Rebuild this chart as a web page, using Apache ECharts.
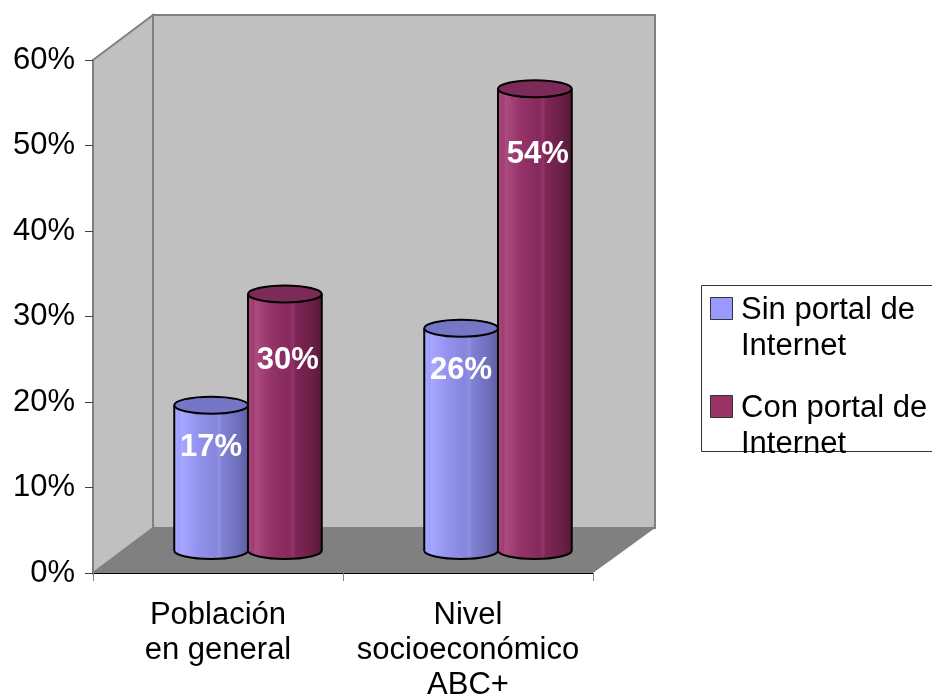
<!DOCTYPE html>
<html>
<head>
<meta charset="utf-8">
<script src="https://cdn.jsdelivr.net/npm/echarts@6/dist/echarts.min.js"></script>
<style>
  html, body { margin: 0; padding: 0; background: #ffffff; }
  #chart { width: 932px; height: 696px; }
</style>
</head>
<body>
<div id="chart"></div>
<script>
// Categories and values (shares as fractions)
const categories = ['Población\nen general', 'Nivel\nsocioeconómico\nABC+'];
const seriesNames = ['Sin portal de\nInternet', 'Con portal de\nInternet'];
const sinPortal = [0.17, 0.26];
const conPortal = [0.30, 0.54];

const FONT = '"Liberation Sans", Arial, sans-serif';
// Depth of the 3D box (back plane offset)
const DX = 60, DY = -45;

const palettes = [
  {
    base: '#9999FF',
    top: '#7676C6',
    body: [
      [0, '#A6A6FF'], [0.08, '#9E9EFF'], [0.1, '#A8A8FF'], [0.3, '#9494F0'],
      [0.55, '#8686DC'], [0.62, '#9090E4'], [0.64, '#8282D6'], [0.85, '#7070BE'], [1, '#5E5EA4']
    ]
  },
  {
    base: '#993366',
    top: '#7C2A57',
    body: [
      [0, '#A9467C'], [0.08, '#A03C72'], [0.1, '#AC4C80'], [0.3, '#96346A'],
      [0.55, '#86295C'], [0.62, '#92346A'], [0.64, '#802656'], [0.85, '#6C2048'], [1, '#561A38']
    ]
  }
];

function gradient(stops) {
  return {
    type: 'linear', x: 0, y: 0, x2: 1, y2: 0,
    colorStops: stops.map(s => ({ offset: s[0], color: s[1] }))
  };
}

// Back wall, left wall and floor of the 3D plot box
function renderBox(params, api) {
  const cs = params.coordSys;
  const x = cs.x, y = cs.y, w = cs.width, h = cs.height;
  return {
    type: 'group',
    children: [
      {
        type: 'rect',
        shape: { x: x + DX, y: y + DY, width: w + 2, height: h },
        style: { fill: '#C0C0C0', stroke: '#808080', lineWidth: 2 }
      },
      {
        type: 'polygon',
        shape: { points: [[x, y], [x + DX, y + DY], [x + DX, y + h + DY], [x, y + h]] },
        style: { fill: '#C0C0C0', stroke: '#808080', lineWidth: 2 }
      },
      {
        type: 'polygon',
        shape: { points: [[x, y + h], [x + w, y + h], [x + w + DX + 2, y + h + DY], [x + DX, y + h + DY]] },
        style: { fill: '#808080' }
      }
    ]
  };
}

// Cylinder for one data point; seriesIdx picks the side of the category slot
function makeCylinder(seriesIdx) {
  const pal = palettes[seriesIdx];
  const labelDx = seriesIdx === 0 ? 0 : 3;
  const labelDy = seriesIdx === 0 ? 42 : 66;
  return function (params, api) {
    const cat = api.value(0);
    const val = api.value(1);
    const base = api.coord([cat, 0]);
    const top = api.coord([cat, val]);
    const band = api.size([1, 0])[0];
    const w = band * 0.295;
    const rx = w / 2, ry = 8.5;
    const cx = base[0] + (seriesIdx === 0 ? -w / 2 : w / 2) + DX / 2;
    const yb = base[1] + DY / 2;
    const yt = top[1] + DY / 2;
    const fill = gradient(pal.body);
    return {
      type: 'group',
      children: [
        {
          type: 'ellipse',
          shape: { cx: cx, cy: yb, rx: rx, ry: ry },
          style: { fill: fill, stroke: '#000', lineWidth: 2 }
        },
        {
          type: 'rect',
          shape: { x: cx - rx, y: yt, width: w, height: yb - yt },
          style: { fill: fill }
        },
        {
          type: 'line',
          shape: { x1: cx - rx, y1: yt, x2: cx - rx, y2: yb },
          style: { stroke: '#000', lineWidth: 2 }
        },
        {
          type: 'line',
          shape: { x1: cx + rx, y1: yt, x2: cx + rx, y2: yb },
          style: { stroke: '#000', lineWidth: 2 }
        },
        {
          type: 'ellipse',
          shape: { cx: cx, cy: yt, rx: rx, ry: ry },
          style: { fill: pal.top, stroke: '#000', lineWidth: 2 }
        },
        {
          type: 'text',
          style: {
            text: Math.round(val * 100) + '%',
            x: cx + labelDx,
            y: yt + labelDy,
            fill: '#ffffff',
            font: 'bold 31px ' + FONT,
            align: 'center',
            verticalAlign: 'middle'
          }
        }
      ]
    };
  };
}

// Legend block at the right
function legendGraphics() {
  const els = [
    {
      type: 'rect',
      shape: { x: 701.5, y: 285.5, width: 260, height: 166 },
      style: { fill: '#ffffff', stroke: '#333333', lineWidth: 1 }
    }
  ];
  const rows = [297.5, 395.5];
  seriesNames.forEach((name, i) => {
    els.push({
      type: 'rect',
      shape: { x: 710.5, y: rows[i], width: 22, height: 22 },
      style: { fill: palettes[i].base, stroke: '#333333', lineWidth: 1 }
    });
    els.push({
      type: 'text',
      style: {
        text: name,
        x: 741,
        y: rows[i] + 11 - 16,
        fill: '#000000',
        font: '31px ' + FONT,
        lineHeight: 36,
        align: 'left',
        verticalAlign: 'top'
      }
    });
  });
  return els;
}

const chart = echarts.init(document.getElementById('chart'), null, { renderer: 'canvas' });

chart.setOption({
  animation: false,
  backgroundColor: '#ffffff',
  grid: { left: 93, top: 60, width: 500, height: 513, containLabel: false, outerBoundsMode: 'none' },
  xAxis: {
    type: 'category',
    data: categories,
    z: 10,
    axisLine: { show: true, lineStyle: { color: '#000000', width: 1 } },
    axisTick: { show: true, length: 8, lineStyle: { color: '#808080', width: 1 } },
    axisLabel: {
      color: '#000000',
      fontSize: 31,
      lineHeight: 35,
      fontFamily: FONT,
      margin: 25,
      interval: 0
    },
    splitLine: { show: false }
  },
  yAxis: {
    type: 'value',
    min: 0,
    max: 0.6,
    interval: 0.1,
    z: 10,
    axisLine: { show: false },
    axisTick: { show: true, length: 8, lineStyle: { color: '#404040', width: 1 } },
    axisLabel: {
      color: '#000000',
      fontSize: 31,
      fontFamily: FONT,
      margin: 18,
      formatter: v => Math.round(v * 100) + '%'
    },
    splitLine: { show: false }
  },
  graphic: legendGraphics(),
  series: [
    {
      type: 'custom',
      name: 'box',
      z: -1,
      silent: true,
      clip: false,
      renderItem: renderBox,
      data: [[0, 0]]
    },
    {
      type: 'custom',
      name: seriesNames[0],
      clip: false,
      itemStyle: { color: palettes[0].base },
      renderItem: makeCylinder(0),
      data: sinPortal.map((v, i) => [i, v])
    },
    {
      type: 'custom',
      name: seriesNames[1],
      clip: false,
      itemStyle: { color: palettes[1].base },
      renderItem: makeCylinder(1),
      data: conPortal.map((v, i) => [i, v])
    }
  ]
});
</script>
</body>
</html>
